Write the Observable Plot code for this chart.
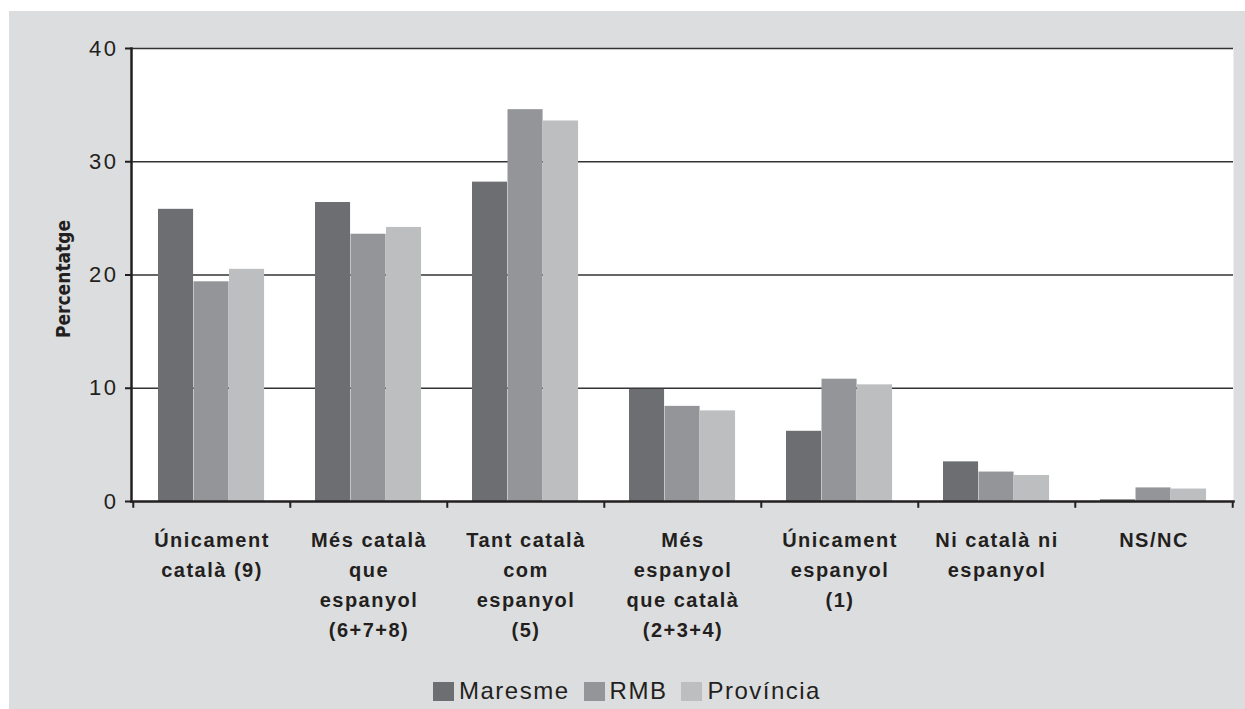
<!DOCTYPE html>
<html><head><meta charset="utf-8">
<script src="https://cdn.jsdelivr.net/npm/d3@7"></script>
<script src="https://cdn.jsdelivr.net/npm/@observablehq/plot@0.6"></script>
<style>
html,body{margin:0;padding:0;background:#fff;width:1245px;height:709px;overflow:hidden;font-family:"Liberation Sans",Arial,sans-serif;}
#panel{position:absolute;left:9px;top:11px;width:1236px;height:698px;background:#dcddde;}
#chart{position:absolute;left:0;top:0;}
#legend{position:absolute;left:9px;top:679px;width:1236px;height:24px;display:flex;justify-content:center;align-items:center;color:#231f20;font-size:24px;line-height:24px;letter-spacing:1.5px;}
#legend .item{display:flex;align-items:center;margin:0 7px;}
#legend .sw{width:21px;height:19px;margin-right:5px;}
g[aria-label="x-axis tick label"] text{letter-spacing:1.5px;}
g[aria-label="y-axis tick label"] text{letter-spacing:2.5px;}
</style></head><body>
<div id="panel"></div>
<div id="chart"></div>
<div id="legend"></div>
<script>
const categories = ["U9","M678","T5","M234","U1","NI","NSNC"];
const tickLabels = [
  "Únicament\ncatalà (9)",
  "Més català\nque\nespanyol\n(6+7+8)",
  "Tant català\ncom\nespanyol\n(5)",
  "Més\nespanyol\nque català\n(2+3+4)",
  "Únicament\nespanyol\n(1)",
  "Ni català ni\nespanyol",
  "NS/NC"
];
const series = ["Maresme", "RMB", "Província"];
const maresme   = [25.8, 26.4, 28.2, 9.9, 6.2, 3.5, 0.15];
const rmb       = [19.4, 23.6, 34.6, 8.4, 10.8, 2.6, 1.2];
const provincia = [20.5, 24.2, 33.6, 8.0, 10.3, 2.3, 1.1];
const yTicks = [0, 10, 20, 30, 40];
const colors = ["#6d6e71", "#939598", "#bcbec0"];

const seriesValues = [maresme, rmb, provincia];
const W = 1245, H = 640, mL = 131, mR = 12, mT = 48, mB = 139;
const bw = (W - mL - mR) / categories.length;
const off = 25, barW = 35.5;
const ink = "#231f20";

const barMarks = seriesValues.map((vals, i) =>
  Plot.barY(categories.map((c, j) => ({c, v: vals[j]})), {
    x: "c", y: "v", fill: colors[i],
    insetLeft: off + barW * i,
    insetRight: bw - (off + barW * (i + 1))
  })
);

const chart = Plot.plot({
  width: W, height: H,
  marginLeft: mL, marginRight: mR, marginTop: mT, marginBottom: mB,
  style: {background: "transparent", overflow: "visible", fontFamily: "Liberation Sans, Arial, sans-serif", color: ink},
  x: {domain: categories, padding: 0},
  y: {domain: [0, 40]},
  marks: [
    Plot.frame({fill: "white", stroke: null}),
    Plot.ruleY(yTicks.slice(1), {stroke: "#333", strokeWidth: 1.5}),
    ...barMarks,
    Plot.ruleX(categories, {x: d => d, y1: 0, y2: -0.6, dx: -bw / 2, stroke: ink, strokeWidth: 2}),
    Plot.ruleX([categories[categories.length - 1]], {x: d => d, y1: 0, y2: -0.6, dx: bw / 2, stroke: ink, strokeWidth: 2}),
    Plot.frame({anchor: "left", stroke: ink, strokeWidth: 2.5}),
    Plot.frame({anchor: "bottom", stroke: ink, strokeWidth: 2.5}),
    Plot.axisY({ticks: yTicks, tickSize: 6, tickPadding: 7, fontSize: 22, label: null, stroke: ink, strokeWidth: 2, fill: ink}),
    Plot.axisX({tickSize: 0, tickPadding: 24, fontSize: 20, fontWeight: "bold", lineHeight: 1.5, label: null, fill: ink,
      tickFormat: d => tickLabels[categories.indexOf(d)]}),
    Plot.text(["Percentatge"], {frameAnchor: "left", dx: -68, dy: 4, rotate: -90, text: d => d, fontSize: 19, fontWeight: "bold", fill: ink, textAnchor: "middle",
      fontFamily: "Liberation Sans Narrow, DejaVu Sans Condensed, sans-serif"})
  ]
});
document.getElementById("chart").appendChild(chart);

const legend = document.getElementById("legend");
series.forEach((s, i) => {
  const it = document.createElement("div");
  it.className = "item";
  const sw = document.createElement("div");
  sw.className = "sw";
  sw.style.background = colors[i];
  const t = document.createElement("span");
  t.textContent = s;
  it.appendChild(sw); it.appendChild(t);
  legend.appendChild(it);
});
</script>
</body></html>
